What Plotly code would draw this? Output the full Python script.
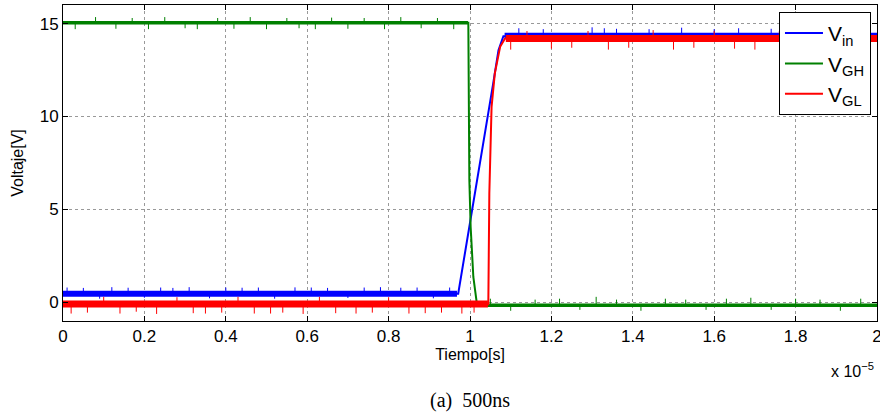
import plotly.graph_objects as go

# time in units of 1e-5 s
vin_t = [0.0, 0.971, 1.057, 1.070, 1.082, 2.0]
vin_v = [0.47, 0.47, 11.78, 13.57, 14.32, 14.32]
vgh_t = [0.0, 0.9959, 0.9984, 1.0016, 1.0082, 1.0164, 1.022, 2.0]
vgh_v = [15.05, 15.05, 6.58, 4.06, 1.37, 0.02, -0.15, -0.15]
vgl_t = [0.0, 1.045, 1.0475, 1.053, 1.061, 1.074, 1.086, 2.0]
vgl_v = [-0.1, -0.1, 5.86, 10.52, 12.32, 13.75, 14.2, 14.2]

# flat noise bands: start, end, level
vin_bands = [(0.0, 0.968, 0.47), (1.085, 2.0, 14.34)]
vgh_bands = [(0.0, 0.995, 15.05), (1.02, 2.0, -0.15)]
vgl_bands = [(0.0, 1.044, -0.08), (1.088, 2.0, 14.2)]

# noise spikes: time, base, peak
vin_sp_t = [0.01, 0.05, 0.09, 0.12, 0.16, 0.2, 0.24, 0.27, 0.31, 0.36, 0.4, 0.44, 0.48, 0.52, 0.57, 0.61, 0.65, 0.7, 0.74, 0.78, 0.83, 0.87, 0.91, 0.95,
            1.12, 1.18, 1.3, 1.33, 1.36, 1.44, 1.52, 1.6, 1.66, 1.74, 1.79, 1.88, 1.95]
vin_sp_b = [0.47] * 24 + [14.34] * 13
vin_sp_p = [0.8, 0.78, 0.2, 0.82, 0.79, 0.25, 0.8, 0.78, 0.82, 0.22, 0.8, 0.79, 0.8, 0.2, 0.81, 0.8, 0.78, 0.24, 0.8, 0.82, 0.79, 0.8, 0.22, 0.8,
            14.75, 14.7, 14.8, 14.75, 14.72, 14.7, 14.78, 14.7, 14.75, 14.72, 14.7, 14.74, 14.7]
vgh_sp_t = [0.03, 0.08, 0.13, 0.17, 0.21, 0.25, 0.3, 0.33, 0.38, 0.42, 0.46, 0.5, 0.55, 0.58, 0.62, 0.66, 0.7, 0.74, 0.79, 0.83, 0.88, 0.92, 0.96,
            1.05, 1.1, 1.16, 1.22, 1.27, 1.31, 1.36, 1.42, 1.48, 1.53, 1.58, 1.63, 1.69, 1.74, 1.8, 1.86, 1.91, 1.96]
vgh_sp_b = [15.05] * 23 + [-0.15] * 18
vgh_sp_p = [14.7, 15.35, 14.72, 15.3, 14.7, 15.35, 14.75, 14.7, 15.3, 14.72, 15.35, 14.7, 15.3, 14.75, 14.7, 15.32, 14.72, 15.3, 14.7, 15.35, 14.75, 15.3, 14.7,
            0.2, -0.45, 0.15, 0.2, -0.4, 0.3, 0.15, -0.45, 0.2, 0.15, -0.4, 0.2, 0.25, -0.4, 0.2, 0.15, -0.45, 0.2]
vgl_sp_t = [0.02, 0.06, 0.1, 0.14, 0.18, 0.23, 0.28, 0.32, 0.35, 0.39, 0.43, 0.47, 0.51, 0.54, 0.59, 0.63, 0.67, 0.72, 0.76, 0.8, 0.85, 0.89, 0.93, 0.98, 1.01,
            1.1, 1.14, 1.2, 1.25, 1.29, 1.34, 1.39, 1.45, 1.5, 1.55, 1.6, 1.65, 1.7, 1.76, 1.82, 1.87, 1.92, 1.97]
vgl_sp_b = [-0.08] * 25 + [14.2] * 18
vgl_sp_p = [-0.6, -0.55, 0.3, -0.6, -0.5, -0.62, 0.28, -0.58, -0.6, -0.55, 0.3, -0.6, -0.6, -0.55, -0.62, 0.3, -0.58, -0.6, -0.55, 0.28, -0.6, -0.58, -0.55, -0.6, -0.55,
            13.6, 14.6, 13.65, 13.7, 14.6, 13.6, 13.7, 14.65, 13.6, 13.7, 14.6, 13.65, 13.6, 14.6, 13.7, 13.6, 13.65, 14.6]

xticks = [0, 0.2, 0.4, 0.6, 0.8, 1, 1.2, 1.4, 1.6, 1.8, 2]
xtick_text = ["0", "0.2", "0.4", "0.6", "0.8", "1", "1.2", "1.4", "1.6", "1.8", "2"]
yticks = [0, 5, 10, 15]

series = [
    ("V<sub>in</sub>", "#0000ff", vin_t, vin_v, vin_bands, vin_sp_t, vin_sp_b, vin_sp_p, 6),
    ("V<sub>GH</sub>", "#008000", vgh_t, vgh_v, vgh_bands, vgh_sp_t, vgh_sp_b, vgh_sp_p, 3.5),
    ("V<sub>GL</sub>", "#ff0000", vgl_t, vgl_v, vgl_bands, vgl_sp_t, vgl_sp_b, vgl_sp_p, 7),
]

fig = go.Figure()
for name, col, t, v, bands, st, sb, sp, bw in series:
    bx, by = [], []
    for a, b, lv in bands:
        bx += [a, b, None]
        by += [lv, lv, None]
    fig.add_trace(go.Scatter(x=bx, y=by, mode="lines", line=dict(color=col, width=bw),
                             showlegend=False, hoverinfo="skip"))
    sx, sy = [], []
    for ti, bi, pi in zip(st, sb, sp):
        sx += [ti, ti, None]
        sy += [bi, pi, None]
    fig.add_trace(go.Scatter(x=sx, y=sy, mode="lines", line=dict(color=col, width=1),
                             showlegend=False, hoverinfo="skip"))
    fig.add_trace(go.Scatter(x=t, y=v, mode="lines", name=name, line=dict(color=col, width=2)))

axis_common = dict(showline=True, linecolor="black", linewidth=1, mirror="ticks",
                   ticks="inside", ticklen=5, tickcolor="black",
                   showgrid=True, gridcolor="#999999", gridwidth=1, griddash="dot",
                   zeroline=False, tickfont=dict(size=17, color="black"), automargin=False,
                   ticklabeloverflow="allow")

fig.update_layout(
    width=880, height=419,
    margin=dict(l=63, r=3, t=5, b=98),
    paper_bgcolor="white", plot_bgcolor="white",
    font=dict(family="Liberation Sans, Arial, sans-serif", color="black"),
    xaxis=dict(range=[0, 2], tickvals=xticks, ticktext=xtick_text,
               title=dict(text="Tiempo[s]", font=dict(size=16), standoff=2), **axis_common),
    yaxis=dict(range=[-1, 16], tickvals=yticks,
               title=dict(text="Voltaje[V]", font=dict(size=16), standoff=12), **axis_common),
    legend=dict(x=0.9926, y=0.978, xanchor="right", yanchor="top",
                bgcolor="white", bordercolor="black", borderwidth=1,
                font=dict(size=21), tracegroupgap=0, itemwidth=38),
    annotations=[
        dict(text="x 10<sup>−5</sup>", xref="paper", yref="paper", x=0.9988, y=-0.155,
             xanchor="right", yanchor="middle", showarrow=False, font=dict(size=16)),
        dict(text="(a)  500ns", xref="paper", yref="paper", x=0.5, y=-0.25,
             xanchor="center", yanchor="middle", showarrow=False,
             font=dict(size=20, family="Liberation Serif, Times New Roman, serif")),
    ],
)

fig.write_html("out.html", config={"displayModeBar": False},
               post_script="document.body.style.margin='0';document.body.style.overflow='hidden';")
